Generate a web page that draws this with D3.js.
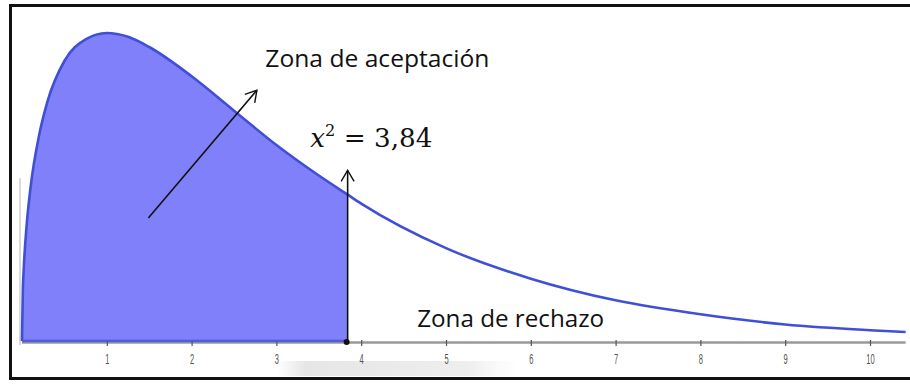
<!DOCTYPE html>
<html>
<head>
<meta charset="utf-8">
<script src="https://cdn.jsdelivr.net/npm/d3@7"></script>
<style>
  html, body { margin: 0; padding: 0; background: #fff; }
  svg { display: block; }
</style>
</head>
<body>
<div id="chart"></div>
<script>
(function () {
  "use strict";

  // Chi-square curve (x value, density)
  var CURVE_X = [0, 0.01, 0.02, 0.05, 0.1, 0.2, 0.3, 0.5, 0.75, 1, 1.25, 1.5, 2, 2.5, 3, 3.5, 3.84, 4, 5, 6, 7, 8, 9, 10, 10.42];
  var CURVE_Y = [0, 0.040, 0.056, 0.087, 0.120, 0.161, 0.188, 0.220, 0.237, 0.242, 0.239, 0.231, 0.208, 0.181, 0.154, 0.130, 0.115, 0.108, 0.073, 0.049, 0.032, 0.021, 0.013, 0.0085, 0.0071];
  var CRITICAL = 3.84;
  var TICKS = [1, 2, 3, 4, 5, 6, 7, 8, 9, 10];

  var W = 910, H = 385;
  var BLUE = "#3f4fd6", FILL = "#8080fb";

  var data = CURVE_X.map(function (x, i) { return { x: x, y: CURVE_Y[i] }; });

  var svg = d3.select("#chart").append("svg").attr("width", W).attr("height", H);

  var defs = svg.append("defs");
  defs.append("marker")
    .attr("id", "head").attr("viewBox", "-12 -8 14 16")
    .attr("markerWidth", 14).attr("markerHeight", 16)
    .attr("refX", 0).attr("refY", 0)
    .attr("markerUnits", "userSpaceOnUse").attr("orient", "auto")
    .append("path").attr("d", "M-11,-6.5 L0,0 L-11,6.5")
    .attr("fill", "none").attr("stroke", "#111").attr("stroke-width", 1.4);

  var smudge = defs.append("linearGradient").attr("id", "smudge");
  smudge.append("stop").attr("offset", "0").attr("stop-color", "#e6e6e6").attr("stop-opacity", 0);
  smudge.append("stop").attr("offset", "0.12").attr("stop-color", "#e6e6e6").attr("stop-opacity", 1);
  smudge.append("stop").attr("offset", "0.8").attr("stop-color", "#eeeeee").attr("stop-opacity", 1);
  smudge.append("stop").attr("offset", "1").attr("stop-color", "#f4f4f4").attr("stop-opacity", 0);

  var x = d3.scaleLinear().domain([0, 10]).range([22, 870]);
  var y = d3.scaleLinear().domain([0, 0.242]).range([341, 33]);

  // faint left axis
  svg.append("line")
    .attr("x1", 20).attr("x2", 20).attr("y1", 178).attr("y2", 345)
    .attr("stroke", "#dadada").attr("stroke-width", 2);

  // blurred gray smudge below the axis
  svg.append("rect")
    .attr("x", x(3.0)).attr("y", 361).attr("width", x(5.85) - x(3.0)).attr("height", 15)
    .attr("rx", 7).attr("fill", "url(#smudge)");

  // x axis
  var axis = svg.append("g").attr("transform", "translate(0," + 342 + ")")
    .call(d3.axisBottom(x).tickValues(TICKS).tickSize(4).tickPadding(7)
      .tickFormat(function (d) { return String(d); }));
  axis.select(".domain").attr("d", "M" + x(0) + ",0.5H" + x(10.42))
    .attr("stroke", "#9a9a9a").attr("stroke-width", 2.5);
  axis.selectAll(".tick line").attr("stroke", "#555").attr("stroke-width", 1.2).attr("y1", -2);
  axis.selectAll(".tick text")
    .attr("fill", "#555").attr("font-family", "Liberation Sans, sans-serif")
    .attr("font-size", 15)
    .attr("transform", "scale(0.5,1)");

  // shaded acceptance area
  var inside = data.filter(function (d) { return d.x <= CRITICAL; });
  var area = d3.area().x(function (d) { return x(d.x); }).y0(y(0)).y1(function (d) { return y(d.y); })
    .curve(d3.curveMonotoneX);
  svg.append("path").datum(inside).attr("d", area).attr("fill", FILL);

  // blue edge along the bottom of the shaded region
  svg.append("line")
    .attr("x1", x(0)).attr("x2", x(CRITICAL)).attr("y1", y(0)).attr("y2", y(0))
    .attr("stroke", BLUE).attr("stroke-width", 2.5).attr("stroke-opacity", 0.8);

  // density curve
  var line = d3.line().x(function (d) { return x(d.x); }).y(function (d) { return y(d.y); })
    .curve(d3.curveMonotoneX);
  svg.append("path").datum(data).attr("d", line)
    .attr("fill", "none").attr("stroke", BLUE).attr("stroke-width", 2.6);

  // vertical arrow at the critical value
  svg.append("line")
    .attr("x1", x(CRITICAL)).attr("x2", x(CRITICAL)).attr("y1", y(0) + 2).attr("y2", y(0.134))
    .attr("stroke", "#111").attr("stroke-width", 1.6).attr("marker-end", "url(#head)");
  svg.append("circle").attr("cx", x(CRITICAL) - 1).attr("cy", 342).attr("r", 3).attr("fill", "#111");

  // diagonal arrow pointing at the acceptance label
  svg.append("line")
    .attr("x1", x(1.49)).attr("y1", y(0.0966)).attr("x2", x(2.77)).attr("y2", y(0.197))
    .attr("stroke", "#111").attr("stroke-width", 1.6).attr("marker-end", "url(#head)");

  // labels
  svg.append("text")
    .attr("x", x(2.87)).attr("y", y(0.2153))
    .attr("font-family", "Open Sans, sans-serif").attr("font-size", 24).attr("fill", "#111")
    .attr("textLength", 224).attr("lengthAdjust", "spacingAndGlyphs")
    .text("Zona de aceptación");

  var eq = svg.append("text")
    .attr("x", x(3.40)).attr("y", y(0.1525))
    .attr("font-family", "DejaVu Serif, serif").attr("font-size", 26).attr("fill", "#111")
    .attr("textLength", 122).attr("lengthAdjust", "spacingAndGlyphs");
  eq.append("tspan").attr("font-style", "italic").text("x");
  eq.append("tspan").attr("dy", -11).attr("font-size", 16).text("2");
  eq.append("tspan").attr("dy", 11).text(" = 3,84");

  svg.append("text")
    .attr("x", x(4.66)).attr("y", y(0.011))
    .attr("font-family", "Open Sans, sans-serif").attr("font-size", 24).attr("fill", "#111")
    .attr("textLength", 187).attr("lengthAdjust", "spacingAndGlyphs")
    .text("Zona de rechazo");

  // frame
  svg.append("rect")
    .attr("x", 10.5).attr("y", 5.5).attr("width", 905).attr("height", 373)
    .attr("fill", "none").attr("stroke", "#111").attr("stroke-width", 3);
})();
</script>
</body>
</html>
